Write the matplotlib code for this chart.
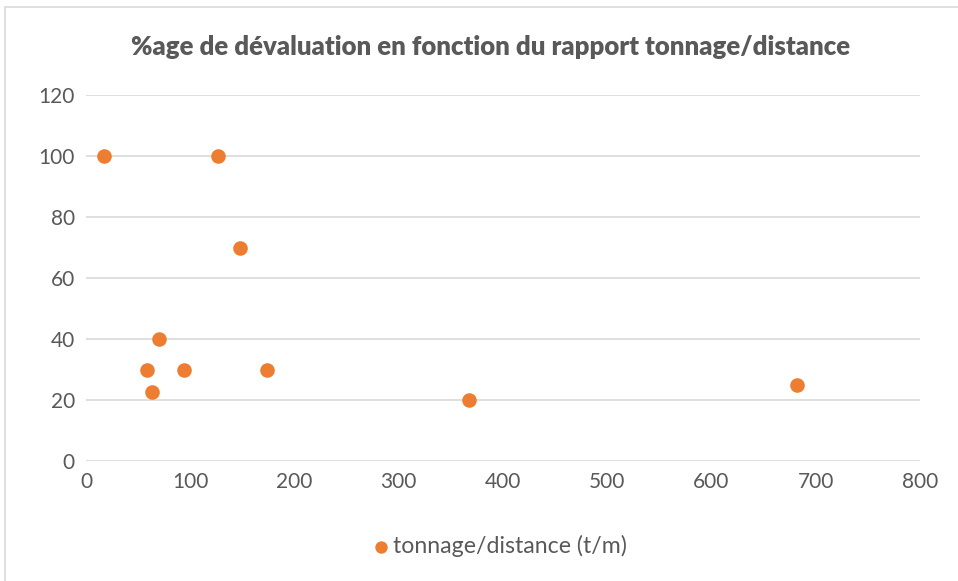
import matplotlib
matplotlib.use("Agg")
import matplotlib.pyplot as plt
from matplotlib.patches import Rectangle

# Data
ratio = [17.6, 126.9, 148, 70, 58.8, 94.3, 63, 173.3, 367.7, 682]
devaluation = [100, 100, 70, 40, 30, 30, 22.5, 30, 20, 25]
x_ticks = [0, 100, 200, 300, 400, 500, 600, 700, 800]
y_ticks = [0, 20, 40, 60, 80, 100, 120]
title = "%age de dévaluation en fonction du rapport tonnage/distance"
series_name = "tonnage/distance (t/m)"

plt.rcParams['font.family'] = ['Lato', 'DejaVu Sans']
W, H = 958, 581
fig = plt.figure(figsize=(W / 100, H / 100), dpi=100)
fig.patch.set_facecolor('white')

# chart border
fig.add_artist(Rectangle((5 / W, -0.1), 1.2, (H - 7) / H + 0.1, transform=fig.transFigure,
                         fill=False, edgecolor='#D9D9D9', linewidth=1.2))

left, right, top, bottom = 86, 920, 95, 461
ax = fig.add_axes([left / W, 1 - bottom / H, (right - left) / W, (bottom - top) / H])
ax.scatter(ratio, devaluation, s=110, color='#ED7D31', zorder=3, linewidths=0,
           label=series_name)
ax.set_xlim(0, 800)
ax.set_ylim(0, 120)
ax.set_xticks(x_ticks)
ax.set_yticks(y_ticks)
ax.grid(axis='y', color='#D9D9D9', linewidth=1.2)
ax.set_axisbelow(True)
for s in ax.spines.values():
    s.set_visible(False)
ax.tick_params(length=0, labelsize=15, labelcolor='#595959', pad=8)

fig.text(491 / W, 1 - 47 / H, title, ha='center', va='center', fontsize=18.5,
         fontweight='heavy', color='#595959')

leg = fig.legend(loc='center', bbox_to_anchor=(0.521, 1 - 546 / H), frameon=False,
                 fontsize=16.7, handletextpad=0.1, handlelength=0.8, markerscale=0.85)
for t in leg.get_texts():
    t.set_color('#595959')

fig.savefig('out.png', dpi=100)
